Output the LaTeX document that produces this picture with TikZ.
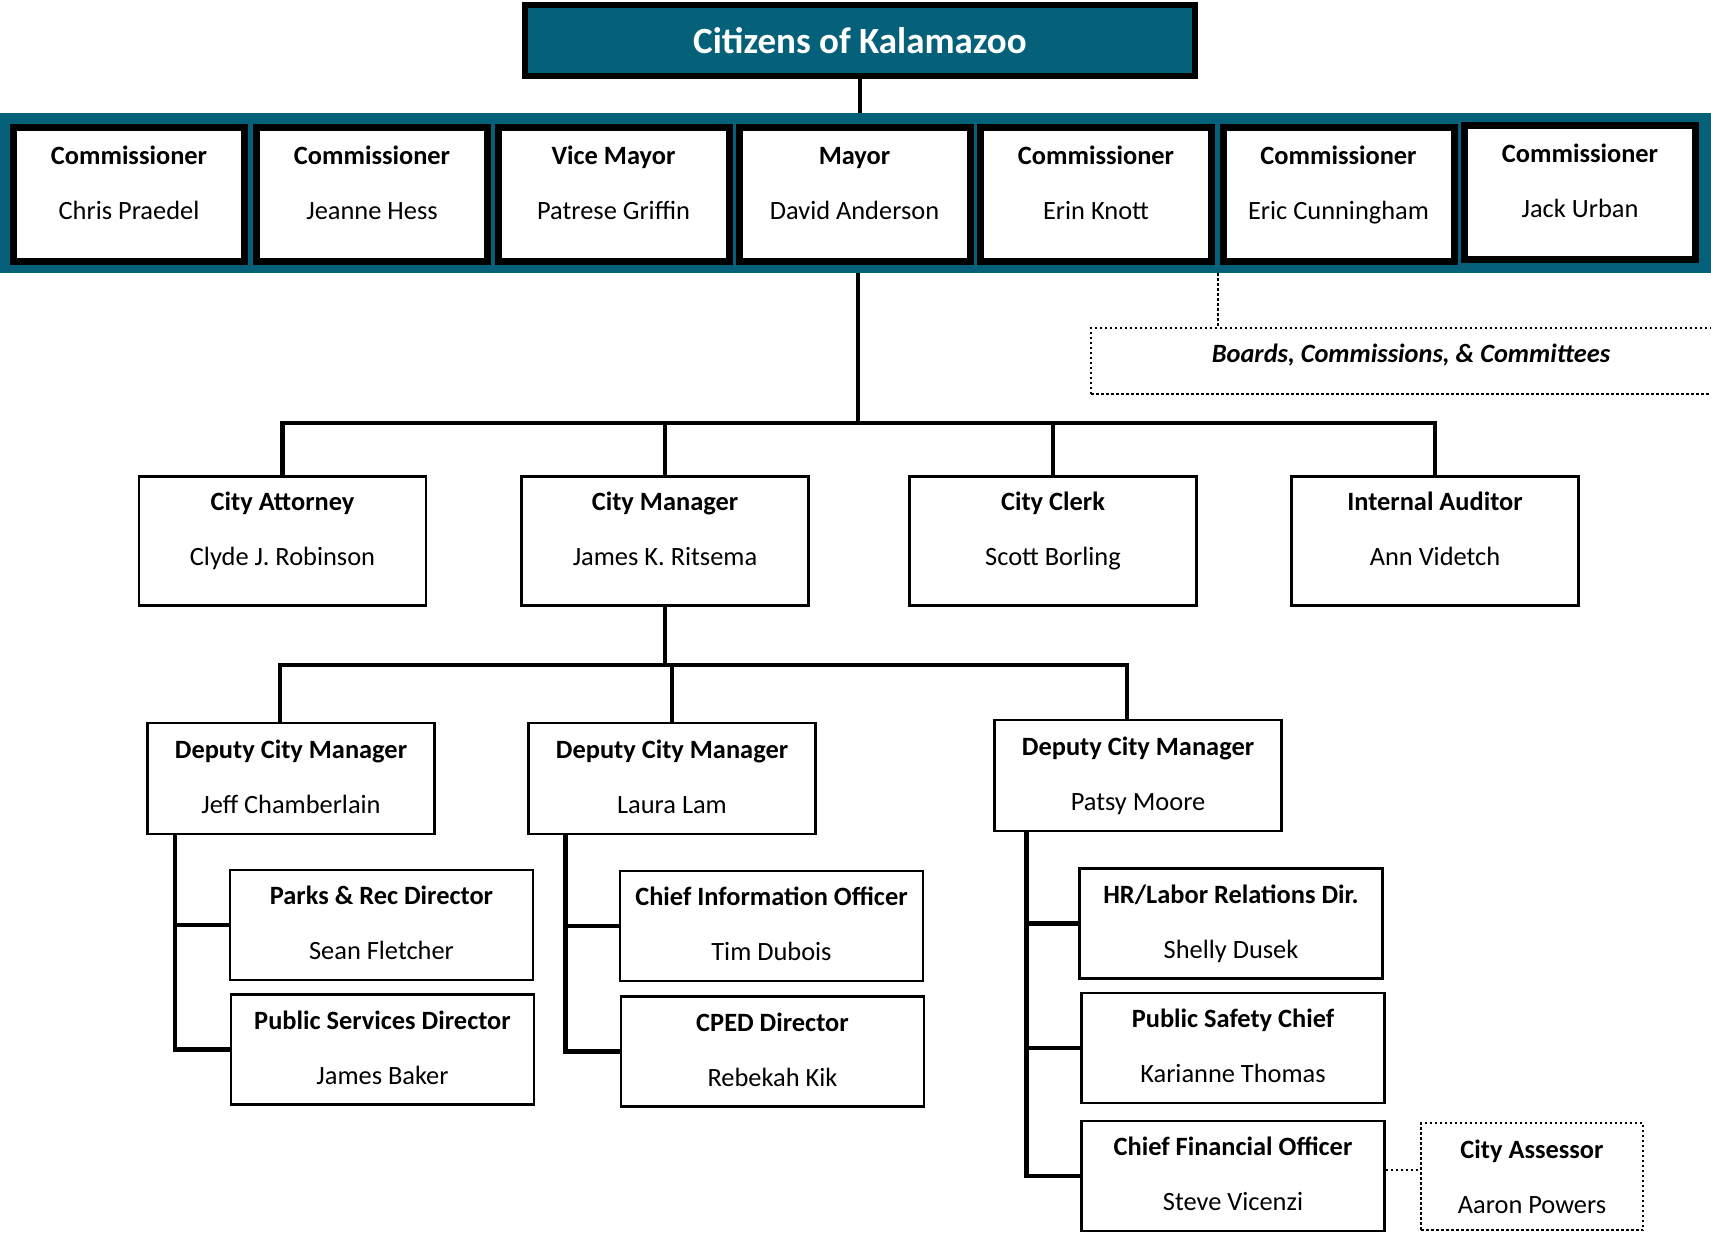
\documentclass[tikz,border=0pt]{standalone}
\usepackage{fontspec}
\setmainfont{Carlito}
\usetikzlibrary{calc,positioning}
\definecolor{kzoo}{RGB}{5,97,122}

\begin{document}
\begin{tikzpicture}[x=1pt,y=-1pt]
    \tikzstyle{every node}=[font=\fontsize{26.4}{32}\selectfont, align=center, inner sep=0pt]
    \tikzstyle{tallstrut}=[execute at begin node={\rule{0pt}{80pt}}, execute at end node={\rule[-30.5pt]{0pt}{30.5pt}}]
    \tikzstyle{shortstrut}=[execute at begin node={\rule{0pt}{80pt}}, execute at end node={\rule[-10.5pt]{0pt}{10.5pt}}]
    \tikzstyle{lowstrut}=[execute at begin node={\rule{0pt}{85pt}}, execute at end node={\rule[-10.5pt]{0pt}{10.5pt}}]
    \tikzstyle{citizens}=[draw=black, line width=6pt, fill=kzoo, text=white, minimum width=670pt, minimum height=71pt, font=\fontsize{37}{44}\selectfont\bfseries]
    \tikzstyle{seat}=[draw=black, line width=7pt, fill=white, minimum width=231pt, minimum height=134pt, tallstrut]
    \tikzstyle{office}=[draw=black, line width=2.2pt, fill=white, minimum width=287pt, minimum height=129pt, tallstrut]
    \tikzstyle{deputy}=[draw=black, line width=2.2pt, fill=white, minimum width=287pt, minimum height=111pt, shortstrut]
    \tikzstyle{dept}=[draw=black, line width=2.2pt, fill=white, minimum width=303pt, minimum height=110pt, shortstrut]
    \tikzstyle{dotbox}=[draw=black, line width=2pt, dash pattern=on 2.5pt off 2.5pt]
    \tikzstyle{link}=[draw=black, line width=4.5pt]
    \tikzstyle{dotlink}=[draw=black, line width=2pt, dash pattern=on 2.5pt off 2.5pt]

    \useasboundingbox (0,0) rectangle (1711,1233);

    % top of the chart
    \node[citizens] (citizens) at (860,40.5) {Citizens of Kalamazoo};
    \node[fill=kzoo, minimum width=1760pt, minimum height=160pt] (council) at (860,193) {};

    \node[seat] (comm1) at (129,194.5) {\textbf{Commissioner}\\[23pt]Chris Praedel};
    \node[seat] (comm2) at (372,194.5) {\textbf{Commissioner}\\[23pt]Jeanne Hess};
    \node[seat] (vicemayor) at (613.5,194.5) {\textbf{Vice Mayor}\\[23pt]Patrese Griffin};
    \node[seat] (mayor) at (854.5,194.5) {\textbf{Mayor}\\[23pt]David Anderson};
    \node[seat] (comm5) at (1096,194.5) {\textbf{Commissioner}\\[23pt]Erin Knott};
    \node[seat] (comm6) at (1338.5,194.5) {\textbf{Commissioner}\\[23pt]Eric Cunningham};
    \node[seat] (comm7) at (1580,192.5) {\textbf{Commissioner}\\[23pt]Jack Urban};

    \node[dotbox, minimum width=640pt, minimum height=66pt, text height=18pt, text depth=15pt, font=\fontsize{26.4}{32}\selectfont\bfseries\itshape] (boards) at (1411,361) {Boards, Commissions, \& Committees};

    % appointed by the commission
    \node[office] (attorney) at (282.5,541) {\textbf{City Attorney}\\[23pt]Clyde J. Robinson};
    \node[office] (manager) at (665,541) {\textbf{City Manager}\\[23pt]James K. Ritsema};
    \node[office] (clerk) at (1053,541) {\textbf{City Clerk}\\[23pt]Scott Borling};
    \node[office] (auditor) at (1435,541) {\textbf{Internal Auditor}\\[23pt]Ann Videtch};

    % deputies
    \node[deputy] (dcm1) at (291,778.5) {\textbf{Deputy City Manager}\\[23pt]Jeff Chamberlain};
    \node[deputy] (dcm2) at (672,778.5) {\textbf{Deputy City Manager}\\[23pt]Laura Lam};
    \node[deputy] (dcm3) at (1138,775.5) {\textbf{Deputy City Manager}\\[23pt]Patsy Moore};

    % departments
    \node[dept] (parks) at (381.5,925) {\textbf{Parks \& Rec Director}\\[23pt]Sean Fletcher};
    \node[dept] (pubserv) at (382.5,1049.5) {\textbf{Public Services Director}\\[23pt]James Baker};
    \node[dept] (cio) at (771.5,926) {\textbf{Chief Information Officer}\\[23pt]Tim Dubois};
    \node[dept] (cped) at (772.5,1051.5) {\textbf{CPED Director}\\[23pt]Rebekah Kik};
    \node[dept] (hr) at (1231,923.5) {\textbf{HR/Labor Relations Dir.}\\[23pt]Shelly Dusek};
    \node[dept] (safety) at (1233,1048) {\textbf{Public Safety Chief}\\[23pt]Karianne Thomas};
    \node[dept] (cfo) at (1233,1176) {\textbf{Chief Financial Officer}\\[23pt]Steve Vicenzi};
    \node[dotbox, minimum width=222pt, minimum height=107pt, lowstrut] (assessor) at (1532,1176.5) {\textbf{City Assessor}\\[23pt]Aaron Powers};

    % connectors
    \coordinate (bus1) at (858,423);
    \coordinate (bus2) at (665,665);
    \coordinate (bcc) at (1218,300);
    \coordinate (spine1) at ([xshift=28.5pt]dcm1.south west);
    \coordinate (spine2) at ([xshift=38pt]dcm2.south west);
    \coordinate (spine3) at ([xshift=33pt]dcm3.south west);
    \coordinate (cfolink) at ([yshift=6pt]cfo.east);

    \draw[link] (citizens.south) -- (council.north -| citizens.south);
    \draw[link] (council.south -| bus1) -- (bus1);
    \draw[link] (attorney.north) -- (attorney.north |- bus1) -- (auditor.north |- bus1) -- (auditor.north);
    \draw[link] (manager.north) -- (manager.north |- bus1);
    \draw[link] (clerk.north) -- (clerk.north |- bus1);

    \draw[link] (manager.south) -- (bus2);
    \draw[link] ([xshift=-11pt]dcm1.north) |- ([xshift=-11pt]dcm3.north |- bus2) -- ([xshift=-11pt]dcm3.north);
    \draw[link] (dcm2.north) -- (dcm2.north |- bus2);

    \draw[link] (spine1) |- (pubserv.west);
    \draw[link] (spine1 |- parks.west) -- (parks.west);
    \draw[link] (spine2) |- (cped.west);
    \draw[link] (spine2 |- cio.west) -- (cio.west);
    \draw[link] (spine3) |- (cfo.west);
    \draw[link] (spine3 |- hr.west) -- (hr.west);
    \draw[link] (spine3 |- safety.west) -- (safety.west);

    \draw[dotlink] (council.south -| bcc) -- (boards.north -| bcc);
    \draw[dotlink] (cfolink) -- (cfolink -| assessor.west);
\end{tikzpicture}
\end{document}
